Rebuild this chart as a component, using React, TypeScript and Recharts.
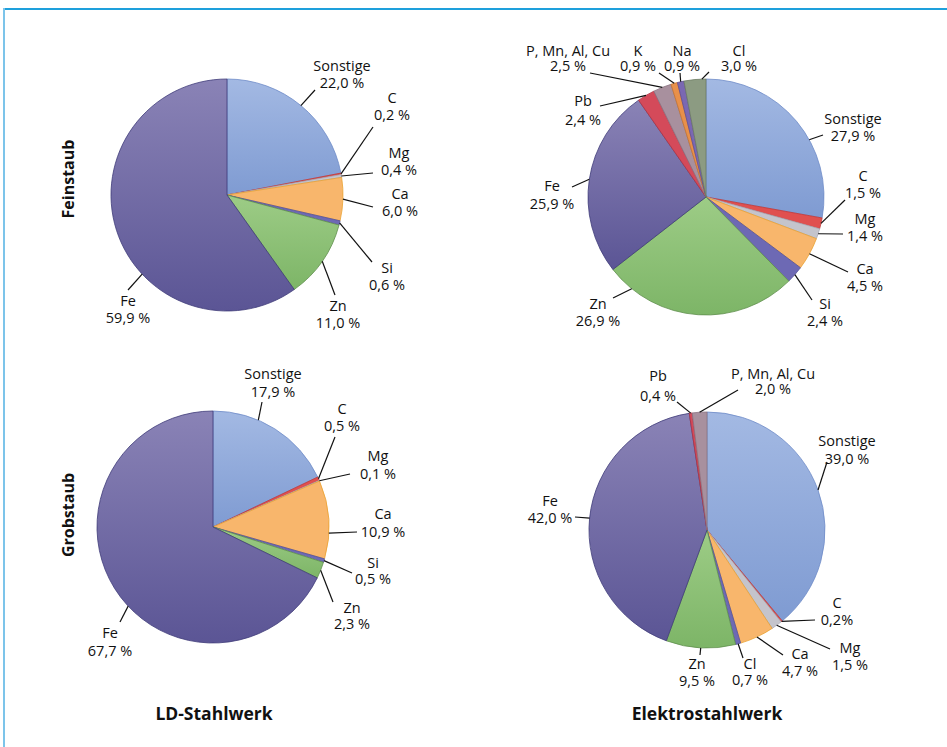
import React from 'react';
import { PieChart, Pie, Cell } from 'recharts';

// ---------- data ----------
const ldFeinNames = ['Sonstige', 'C', 'Mg', 'Ca', 'Si', 'Zn', 'Fe'];
const ldFeinValues = [22.0, 0.2, 0.4, 6.0, 0.6, 11.0, 59.9];
const ldGrobNames = ['Sonstige', 'C', 'Mg', 'Ca', 'Si', 'Zn', 'Fe'];
const ldGrobValues = [17.9, 0.5, 0.1, 10.9, 0.5, 2.3, 67.7];
const esFeinNames = ['Sonstige', 'C', 'Mg', 'Ca', 'Si', 'Zn', 'Fe', 'Pb', 'P, Mn, Al, Cu', 'K', 'Na', 'Cl'];
const esFeinValues = [27.9, 1.5, 1.4, 4.5, 2.4, 26.9, 25.9, 2.4, 2.5, 0.9, 0.9, 3.0];
const esGrobNames = ['Sonstige', 'C', 'Mg', 'Ca', 'Cl', 'Zn', 'Fe', 'Pb', 'P, Mn, Al, Cu'];
const esGrobValues = [39.0, 0.2, 1.5, 4.7, 0.7, 9.5, 42.0, 0.4, 2.0];
const rowLabels = ['Feinstaub', 'Grobstaub'];
const colLabels = ['LD-Stahlwerk', 'Elektrostahlwerk'];

// ---------- styles ----------
const FONT = '"Open Sans", "DejaVu Sans", sans-serif';
type Col = { f: string; s: string };
const C_SON: Col = { f: 'url(#gSon)', s: '#6f8cc8' };
const C_C: Col = { f: '#e0504f', s: '#c03a3a' };
const C_MG: Col = { f: '#c4c4cc', s: '#a8a8b4' };
const C_CA: Col = { f: '#f8b66c', s: '#eaa232' };
const C_SI: Col = { f: '#6d69b4', s: '#55529a' };
const C_ZN: Col = { f: 'url(#gZn)', s: '#5f8f4d' };
const C_FE: Col = { f: 'url(#gFe)', s: '#3f3b78' };
const C_PB: Col = { f: '#d44a5a', s: '#b03444' };
const C_PM: Col = { f: '#a8909e', s: '#8a7382' };
const C_K: Col = { f: '#e8904a', s: '#c87430' };
const C_NA: Col = { f: '#7a68b2', s: '#5e4e96' };
const C_CLG: Col = { f: '#8c9b82', s: '#6d7c63' };

const ldColors = [C_SON, C_C, C_MG, C_CA, C_SI, C_ZN, C_FE];
const esFeinColors = [C_SON, C_C, C_MG, C_CA, C_SI, C_ZN, C_FE, C_PB, C_PM, C_K, C_NA, C_CLG];
const esGrobColors = [C_SON, C_C, C_MG, C_CA, C_SI, C_ZN, C_FE, C_PB, C_PM];

// label layout: t = text offset from centre, g = line gap, e = leader end, a = leader start angle override
type Lab = { t: [number, number]; g?: number; e: [number, number]; a?: number; ns?: boolean };

const ldFeinLayout: Lab[] = [
  { t: [115, -130], g: 17.5, e: [88, -105] },
  { t: [165, -98], e: [146, -68] },
  { t: [172, -43], e: [146, -22] },
  { t: [173, -2], e: [146, 12] },
  { t: [160, 72], e: [145, 67] },
  { t: [111, 110], e: [108, 100] },
  { t: [-99, 105], e: [-99, 95], a: 223 },
];
const ldGrobLayout: Lab[] = [
  { t: [60, -154], g: 18, e: [49, -125], a: 67 },
  { t: [129, -119], e: [122, -90] },
  { t: [165, -72], g: 18, e: [137, -53] },
  { t: [170, -14], g: 18, e: [144, 5], a: -3 },
  { t: [160, 35], g: 16, e: [139, 46] },
  { t: [139, 80], g: 16, e: [120, 75] },
  { t: [-103, 105], g: 18, e: [-93, 95], a: 223 },
];
const esFeinLayout: Lab[] = [
  { t: [147, -79], e: [117, -62], a: 29 },
  { t: [157, -22], e: [139, 3] },
  { t: [159, 21], e: [137, 37] },
  { t: [159, 71], e: [142, 75] },
  { t: [119, 106], e: [106, 103] },
  { t: [-108, 106], e: [-93, 101], a: 231 },
  { t: [-154, -12], g: 18, e: [-134, -10] },
  { t: [-123, -97], g: 19, e: [-106, -91] },
  { t: [-138, -147], g: 15, e: [-116, -124] },
  { t: [-68, -147], g: 15, e: [-47, -124] },
  { t: [-24, -147], g: 15, e: [-26, -124] },
  { t: [33, -147], g: 15, e: [3, -125], a: 92 },
];
const esGrobLayout: Lab[] = [
  { t: [140, -90], g: 18, e: [120, -68] },
  { t: [130, 72], e: [108, 90], ns: true },
  { t: [143, 117], e: [123, 119] },
  { t: [93, 123], e: [76, 125] },
  { t: [43, 133], g: 16, e: [36, 128] },
  { t: [-10, 133], e: [-7, 125] },
  { t: [-157, -30], e: [-132, -13] },
  { t: [-49, -155], g: 20, e: [-30, -128] },
  { t: [66, -157], g: 15, e: [31, -140] },
];

const fmt = (v: number, ns?: boolean) => v.toFixed(1).replace('.', ',') + (ns ? '%' : ' %');

function makeLabel(layout: Lab[]) {
  return (p: any) => {
    const L = layout[p.index];
    if (!L) return null;
    const ang = ((L.a ?? p.midAngle) * Math.PI) / 180;
    const r = p.outerRadius;
    const sx = p.cx + r * Math.cos(ang);
    const sy = p.cy - r * Math.sin(ang);
    const ex = p.cx + L.e[0];
    const ey = p.cy + L.e[1];
    const tx = p.cx + L.t[0];
    const ty = p.cy + L.t[1];
    const g = L.g ?? 17;
    const name = p.payload?.name ?? p.name;
    const value = p.payload?.value ?? p.value;
    return (
      <g key={`lab-${p.index}`}>
        <line x1={sx} y1={sy} x2={ex} y2={ey} stroke="#111" strokeWidth={1.2} />
        <text x={tx} y={ty} textAnchor="middle" dominantBaseline="central" fontFamily={FONT} fontSize={14.5} fill="#111">
          {name}
        </text>
        <text x={tx} y={ty + g} textAnchor="middle" dominantBaseline="central" fontFamily={FONT} fontSize={14.5} fill="#111">
          {fmt(value, L.ns)}
        </text>
      </g>
    );
  };
}

const build = (names: string[], values: number[]) => names.map((n, i) => ({ name: n, value: values[i] }));

const pies = [
  { id: 'ldF', data: build(ldFeinNames, ldFeinValues), colors: ldColors, layout: ldFeinLayout, cx: 227, cy: 195, r: 116 },
  { id: 'esF', data: build(esFeinNames, esFeinValues), colors: esFeinColors, layout: esFeinLayout, cx: 706, cy: 197, r: 118 },
  { id: 'ldG', data: build(ldGrobNames, ldGrobValues), colors: ldColors, layout: ldGrobLayout, cx: 213, cy: 527, r: 116 },
  { id: 'esG', data: build(esGrobNames, esGrobValues), colors: esGrobColors, layout: esGrobLayout, cx: 707, cy: 530, r: 118 },
];

export default function App() {
  return (
    <div style={{ position: 'absolute', left: 0, top: 0, width: 947, height: 747, background: '#fff', overflow: 'hidden' }}>
      <div style={{ position: 'absolute', left: 3, top: 8, width: 960, height: 2, background: '#1ea0dc' }} />
      <div style={{ position: 'absolute', left: 3, top: 8, width: 2, height: 760, background: '#7cc4ea' }} />
      <div style={{ position: 'absolute', left: 0, top: 0 }}>
        <PieChart width={947} height={747} margin={{ top: 0, right: 0, bottom: 0, left: 0 }}>
          <defs>
            <linearGradient id="gSon" x1="0" y1="0" x2="0" y2="1">
              <stop offset="0%" stopColor="#a3b9e3" />
              <stop offset="100%" stopColor="#7f9bd2" />
            </linearGradient>
            <linearGradient id="gFe" x1="0" y1="0" x2="0" y2="1">
              <stop offset="0%" stopColor="#8a83b6" />
              <stop offset="100%" stopColor="#5b5595" />
            </linearGradient>
            <linearGradient id="gZn" x1="0" y1="0" x2="0" y2="1">
              <stop offset="0%" stopColor="#9dcc86" />
              <stop offset="100%" stopColor="#7db567" />
            </linearGradient>
          </defs>
          {pies.map((pc) => (
            <Pie
              key={pc.id}
              data={pc.data}
              dataKey="value"
              nameKey="name"
              cx={pc.cx}
              cy={pc.cy}
              outerRadius={pc.r}
              startAngle={90}
              endAngle={-270}
              isAnimationActive={false}
              labelLine={false}
              label={makeLabel(pc.layout)}
            >
              {pc.data.map((d, i) => (
                <Cell key={`${pc.id}-${i}`} fill={pc.colors[i].f} stroke={pc.colors[i].s} strokeWidth={0.8} />
              ))}
            </Pie>
          ))}
        </PieChart>
      </div>
      <svg width={947} height={747} style={{ position: 'absolute', left: 0, top: 0, pointerEvents: 'none' }}>
        <text x={68} y={179} transform="rotate(-90 68 179)" textAnchor="middle" dominantBaseline="central" fontFamily={FONT} fontWeight={700} fontSize={16} fill="#111">
          {rowLabels[0]}
        </text>
        <text x={68} y={515} transform="rotate(-90 68 515)" textAnchor="middle" dominantBaseline="central" fontFamily={FONT} fontWeight={700} fontSize={16} fill="#111">
          {rowLabels[1]}
        </text>
        <text x={214} y={713} textAnchor="middle" dominantBaseline="central" fontFamily={FONT} fontWeight={700} fontSize={17.5} fill="#111">
          {colLabels[0]}
        </text>
        <text x={707} y={713} textAnchor="middle" dominantBaseline="central" fontFamily={FONT} fontWeight={700} fontSize={17.5} fill="#111">
          {colLabels[1]}
        </text>
      </svg>
    </div>
  );
}
